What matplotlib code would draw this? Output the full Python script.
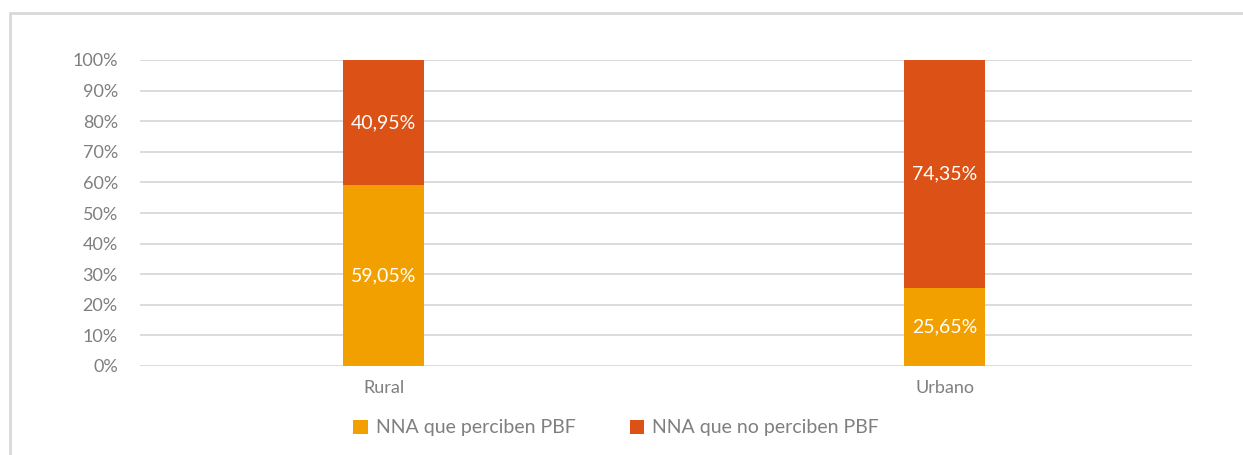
import matplotlib.pyplot as plt
from matplotlib.patches import Rectangle

plt.rcParams['font.family'] = ['Lato', 'DejaVu Sans']

categories = ["Rural", "Urbano"]
perciben = [59.05, 25.65]
no_perciben = [40.95, 74.35]
series_names = ["NNA que perciben PBF", "NNA que no perciben PBF"]
y_ticks = [0, 10, 20, 30, 40, 50, 60, 70, 80, 90, 100]

col_yes = "#F2A000"
col_no = "#DC5115"
grey_txt = "#7F7F7F"

W, H = 1243, 455
fig = plt.figure(figsize=(W / 100, H / 100), dpi=100)
ax = fig.add_axes([140 / W, 1 - 366 / H, (1192 - 140) / W, (366 - 60) / H])

x = list(range(len(categories)))
width = 0.144
b1 = ax.bar(x, perciben, width, color=col_yes, label=series_names[0], zorder=3)
b2 = ax.bar(x, no_perciben, width, bottom=perciben, color=col_no, label=series_names[1], zorder=3)

for bars, vals in ((b1, perciben), (b2, no_perciben)):
    for rect, v in zip(bars, vals):
        cy = rect.get_y() + rect.get_height() / 2
        ax.text(rect.get_x() + rect.get_width() / 2, cy, f"{v:.2f}%".replace(".", ","),
                ha="center", va="center", color="white", fontsize=14, zorder=4)

ax.set_xlim(-0.434, 1.441)
ax.set_ylim(0, 100)
ax.set_yticks(y_ticks)
ax.set_yticklabels([f"{t}%" for t in y_ticks])
ax.set_xticks(x)
ax.set_xticklabels(categories)
ax.tick_params(axis="both", length=0, colors=grey_txt, labelsize=13)
ax.tick_params(axis="y", pad=16)
ax.tick_params(axis="x", pad=10)
ax.grid(axis="y", color="#D9D9D9", linewidth=1.3, zorder=0)
for s in ax.spines.values():
    s.set_visible(False)

leg = fig.legend(loc="center", bbox_to_anchor=(616 / W, 1 - 428 / H), ncol=2, frameon=False,
                 fontsize=14, handlelength=0.75, handleheight=0.75, handletextpad=0.4,
                 columnspacing=2.8)
for t in leg.get_texts():
    t.set_color(grey_txt)

fig.add_artist(Rectangle((10 / W, -0.1), 1.2, 1.1 - 13 / H, transform=fig.transFigure,
                         fill=False, edgecolor="#D9D9D9", linewidth=2, clip_on=False))

fig.savefig("out.png", dpi=100)
